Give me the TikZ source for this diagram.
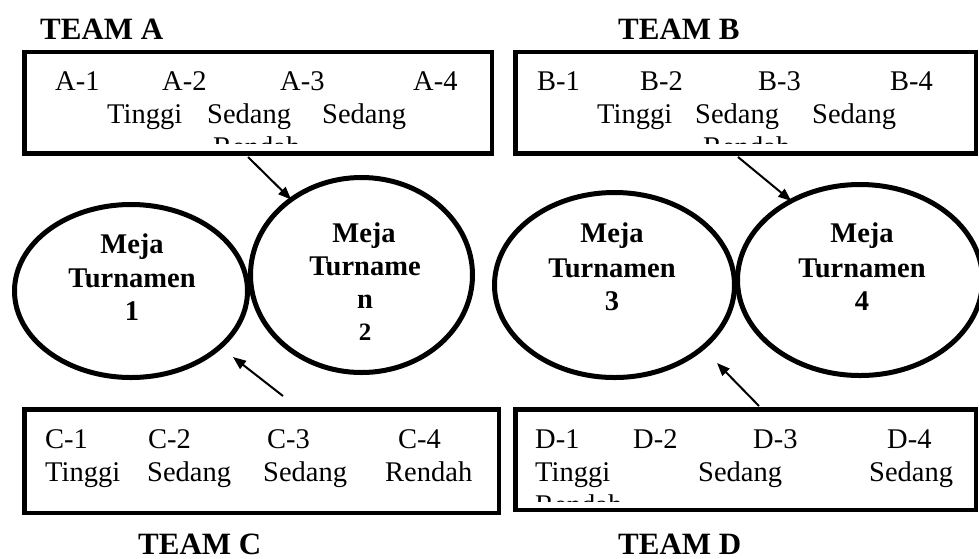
\documentclass[tikz,border=0pt]{standalone}
\usepackage{fontspec}
\setmainfont{Liberation Serif}
\usetikzlibrary{shapes.geometric,arrows.meta}
\tikzset{
  box/.style={draw, line width=4.5pt, rectangle, inner sep=0pt, outer sep=0pt},
  meja/.style={draw, line width=5pt, ellipse, inner sep=0pt, outer sep=0pt},
  txt/.style={inner sep=0pt, anchor=base west, font=\fontsize{28.5}{33}\selectfont},
  mtxt/.style={inner sep=0pt, anchor=base, font=\fontsize{28.5}{33}\selectfont\bfseries},
  title/.style={inner sep=0pt, anchor=base west, font=\fontsize{31}{36}\selectfont\bfseries},
  arr/.style={line width=2pt, -{Triangle[length=13pt,width=10pt]}}
}
\begin{document}
\begin{tikzpicture}[x=1pt,y=-1pt]
\useasboundingbox (0,0) rectangle (979,558);
% titles
\node[title] (tA) at (40,39) {TEAM A};
\node[title] (tB) at (618,39) {TEAM B};
\node[title] (tC) at (138,554) {TEAM C};
\node[title] (tD) at (618,554) {TEAM D};
% boxes
\node[box, minimum width=467.5pt, minimum height=101.5pt] (boxA) at (258,102.5) {};
\node[box, minimum width=460.5pt, minimum height=101.5pt] (boxB) at (745.5,102.5) {};
\node[box, minimum width=474.5pt, minimum height=103.5pt] (boxC) at (261.5,461) {};
\node[box, minimum width=460.5pt, minimum height=100.5pt] (boxD) at (745.5,459.5) {};
% team A text
\node[txt] (a1) at (55,90) {A-1};
\node[txt] (a2) at (162,90) {A-2};
\node[txt] (a3) at (280,90) {A-3};
\node[txt] (a4) at (413,90) {A-4};
\node[txt] (a5) at (107,123) {Tinggi};
\node[txt] (a6) at (207,123) {Sedang};
\node[txt] (a7) at (322,123) {Sedang};
\begin{scope}
\clip (30,60) rectangle (480,143.5);
\node[txt] (a8) at (213,156) {Rendah};
\end{scope}
% team B text
\node[txt] (b1) at (537,90) {B-1};
\node[txt] (b2) at (640,90) {B-2};
\node[txt] (b3) at (758,90) {B-3};
\node[txt] (b4) at (890,90) {B-4};
\node[txt] (b5) at (597,123) {Tinggi};
\node[txt] (b6) at (695,123) {Sedang};
\node[txt] (b7) at (812,123) {Sedang};
\begin{scope}
\clip (520,60) rectangle (970,143.5);
\node[txt] (b8) at (703,156) {Rendah};
\end{scope}
% team C text
\node[txt] (c1) at (45,448) {C-1};
\node[txt] (c2) at (148,448) {C-2};
\node[txt] (c3) at (267,448) {C-3};
\node[txt] (c4) at (398,448) {C-4};
\node[txt] (c5) at (45,481) {Tinggi};
\node[txt] (c6) at (147,481) {Sedang};
\node[txt] (c7) at (263,481) {Sedang};
\node[txt] (c8) at (385,481) {Rendah};
% team D text
\node[txt] (d1) at (535,448) {D-1};
\node[txt] (d2) at (633,448) {D-2};
\node[txt] (d3) at (753,448) {D-3};
\node[txt] (d4) at (887,448) {D-4};
\node[txt] (d5) at (535,481) {Tinggi};
\node[txt] (d6) at (698,481) {Sedang};
\node[txt] (d7) at (869,481) {Sedang};
\begin{scope}
\clip (520,420) rectangle (970,501);
\node[txt] (d8) at (535,514) {Rendah};
\end{scope}
% ellipses
\node[meja, minimum width=233pt, minimum height=173pt] (e1) at (131,291) {};
\node[meja, minimum width=222pt, minimum height=195pt] (e2) at (361.5,275) {};
\node[meja, minimum width=240pt, minimum height=185pt] (e3) at (614.5,285) {};
\node[meja, minimum width=245pt, minimum height=191pt] (e4) at (860,280) {};
% ellipse texts
\node[mtxt] (m1a) at (132,253) {Meja};
\node[mtxt] (m1b) at (132,287) {Turnamen};
\node[mtxt] (m1c) at (132,320) {1};
\node[mtxt] (m2a) at (364,242) {Meja};
\node[mtxt] (m2b) at (365,275) {Turname};
\node[mtxt] (m2c) at (365,308) {n};
\node[mtxt, font=\fontsize{25}{28}\selectfont\bfseries] (m2d) at (365,340) {2};
\node[mtxt] (m3a) at (612,242) {Meja};
\node[mtxt] (m3b) at (612,277) {Turnamen};
\node[mtxt] (m3c) at (612,310) {3};
\node[mtxt] (m4a) at (862,242) {Meja};
\node[mtxt] (m4b) at (862,277) {Turnamen};
\node[mtxt] (m4c) at (862,310) {4};
% arrows
\coordinate (sA) at (248,157);
\coordinate (sB) at (738,157);
\coordinate (sC) at (283,396);
\coordinate (tipC) at (233,357);
\coordinate (sD) at (759,406);
\coordinate (tipD) at (717,363);
\draw[arr] (sA) -- (e2.133);
\draw[arr] (sB) -- (e4.131);
\draw[arr] (sC) -- (tipC);
\draw[arr] (sD) -- (tipD);
\end{tikzpicture}
\end{document}
